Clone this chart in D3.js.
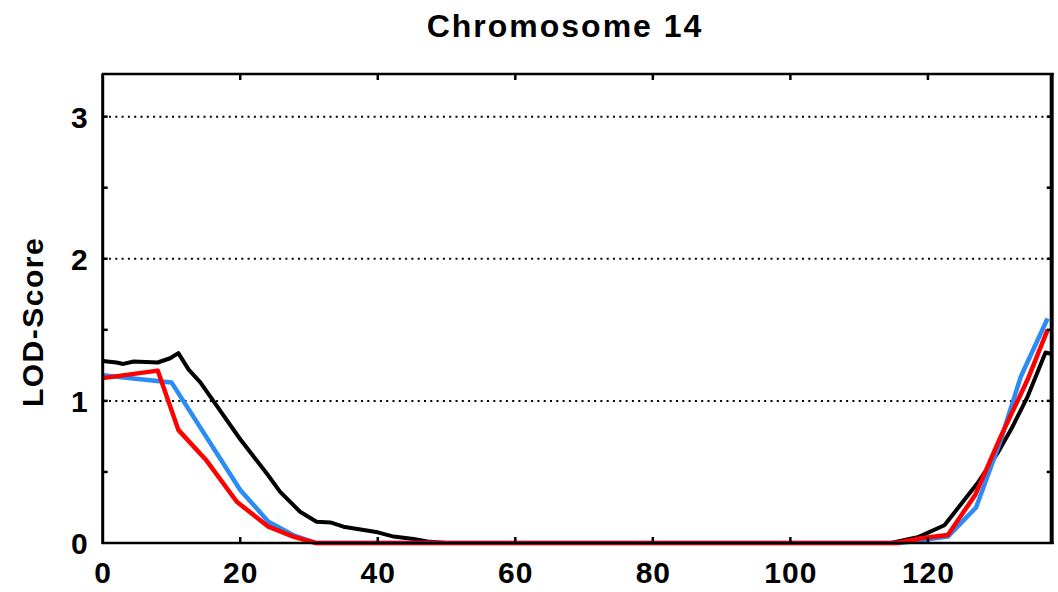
<!DOCTYPE html>
<html><head><meta charset="utf-8">
<script src="https://cdn.jsdelivr.net/npm/d3@7/dist/d3.min.js"></script>
<style>
html,body{margin:0;padding:0;background:#fff;}
svg{display:block;font-family:"Liberation Sans",Arial,sans-serif;}
</style></head>
<body>
<svg id="chart" width="1058" height="592"></svg>
<script>
// ---- data (cM position, LOD score) ----
const title = "Chromosome 14";
const yTitle = "LOD-Score";
const xTicks = [0, 20, 40, 60, 80, 100, 120];
const yTicks = [0, 1, 2, 3];
const yMinorTicks = [0.5, 1.5, 2.5];

const blackPos = [0, 2, 3, 4.5, 8, 9.8, 11, 12.5, 14.2, 20, 24, 25.8, 28.7, 31.1, 33.1, 35, 37.5, 40, 42.3, 45.2, 47.2, 50, 114.6, 118.5, 122.4, 127.2, 130.1, 132.1, 134.5, 137.1, 138];
const blackLod = [1.28, 1.27, 1.26, 1.277, 1.27, 1.30, 1.336, 1.22, 1.13, 0.73, 0.48, 0.36, 0.22, 0.15, 0.145, 0.115, 0.095, 0.075, 0.045, 0.028, 0.01, 0, 0, 0.04, 0.125, 0.42, 0.63, 0.80, 1.03, 1.34, 1.33];

const bluePos = [0, 10, 20, 24.1, 27.7, 31, 116, 122.9, 127, 130.6, 133.5, 137.4];
const blueLod = [1.18, 1.13, 0.373, 0.15, 0.056, 0, 0, 0.045, 0.25, 0.725, 1.17, 1.58];

const redPos = [0, 8, 11, 15.1, 19.5, 24.1, 27.7, 31, 115.5, 119, 122.9, 126.9, 130.6, 134.5, 137.4];
const redLod = [1.16, 1.213, 0.796, 0.58, 0.29, 0.115, 0.045, 0, 0, 0.033, 0.056, 0.34, 0.75, 1.15, 1.50];

const seriesList = [
  {pos: blackPos, lod: blackLod, color: "#000000", width: 4},
  {pos: bluePos, lod: blueLod, color: "#2b8cf5", width: 4.5},
  {pos: redPos, lod: redLod, color: "#ff0000", width: 4.5}
];

// ---- layout ----
const svg = d3.select("#chart");
const L = 102.7, R = 1051.7, T = 74, B = 543;
const x = d3.scaleLinear().domain([0, 138]).range([L, R]);
const y = d3.scaleLinear().domain([0, 3.3]).range([B, T]);

// grid lines (dotted)
svg.append("g").selectAll("line").data(yTicks.filter(d => d > 0)).join("line")
  .attr("x1", L).attr("x2", R)
  .attr("y1", d => y(d)).attr("y2", d => y(d))
  .attr("stroke", "#000").attr("stroke-width", 2)
  .attr("stroke-dasharray", "2,4.3");

// series lines
const line = d3.line().x(d => x(d[0])).y(d => y(d[1]));
seriesList.forEach(s => {
  const pts = s.pos.map((p, i) => [p, s.lod[i]]);
  svg.append("path").datum(pts)
    .attr("d", line)
    .attr("fill", "none")
    .attr("stroke", s.color)
    .attr("stroke-width", s.width)
    .attr("stroke-linejoin", "round")
    .attr("stroke-linecap", "butt");
});

// inner ticks
const tickG = svg.append("g").attr("stroke", "#000").attr("stroke-width", 2.5);
xTicks.filter(d => d > 0).forEach(d => {
  tickG.append("line").attr("x1", x(d)).attr("x2", x(d)).attr("y1", B).attr("y2", B - 6);
  tickG.append("line").attr("x1", x(d)).attr("x2", x(d)).attr("y1", T).attr("y2", T + 6);
});
yMinorTicks.concat(yTicks.filter(d => d > 0)).forEach(d => {
  tickG.append("line").attr("x1", L).attr("x2", L + 5).attr("y1", y(d)).attr("y2", y(d));
  tickG.append("line").attr("x1", R).attr("x2", R - 5).attr("y1", y(d)).attr("y2", y(d));
});

// frame
svg.append("line").attr("x1", L - 1).attr("x2", R + 2).attr("y1", T).attr("y2", T).attr("stroke", "#000").attr("stroke-width", 2.5);
svg.append("line").attr("x1", L - 1).attr("x2", R + 2).attr("y1", B).attr("y2", B).attr("stroke", "#000").attr("stroke-width", 2.5);
svg.append("line").attr("x1", L).attr("x2", L).attr("y1", T).attr("y2", B + 1).attr("stroke", "#000").attr("stroke-width", 3);
svg.append("line").attr("x1", R).attr("x2", R).attr("y1", T - 1).attr("y2", B + 1).attr("stroke", "#000").attr("stroke-width", 4);

// tick labels via axes
const xAxis = d3.axisBottom(x).tickValues(xTicks).tickSize(0).tickPadding(0).tickFormat(d3.format("d"));
const gx = svg.append("g").attr("transform", `translate(0,${B})`).call(xAxis);
gx.select(".domain").remove();
gx.selectAll("text").attr("dy", null).attr("y", 40)
  .attr("font-size", 30).attr("font-weight", "bold").attr("font-family", "Liberation Sans, Arial, sans-serif")
  .attr("fill", "#000").style("letter-spacing", "1px");

const yAxis = d3.axisLeft(y).tickValues(yTicks).tickSize(0).tickPadding(0).tickFormat(d3.format("d"));
const gy = svg.append("g").attr("transform", `translate(${L - 15},0)`).call(yAxis);
gy.select(".domain").remove();
gy.selectAll("text").attr("x", 0).attr("dy", "0.36em")
  .attr("font-size", 30).attr("font-weight", "bold").attr("font-family", "Liberation Sans, Arial, sans-serif")
  .attr("fill", "#000");

// titles
svg.append("text").attr("x", 565).attr("y", 37).attr("text-anchor", "middle")
  .attr("font-size", 32).attr("font-weight", "bold").style("letter-spacing", "2px")
  .text(title);
svg.append("text").attr("transform", "translate(43,322) rotate(-90)").attr("text-anchor", "middle")
  .attr("font-size", 30).attr("font-weight", "bold").style("letter-spacing", "1.5px")
  .text(yTitle);
</script>
</body></html>
